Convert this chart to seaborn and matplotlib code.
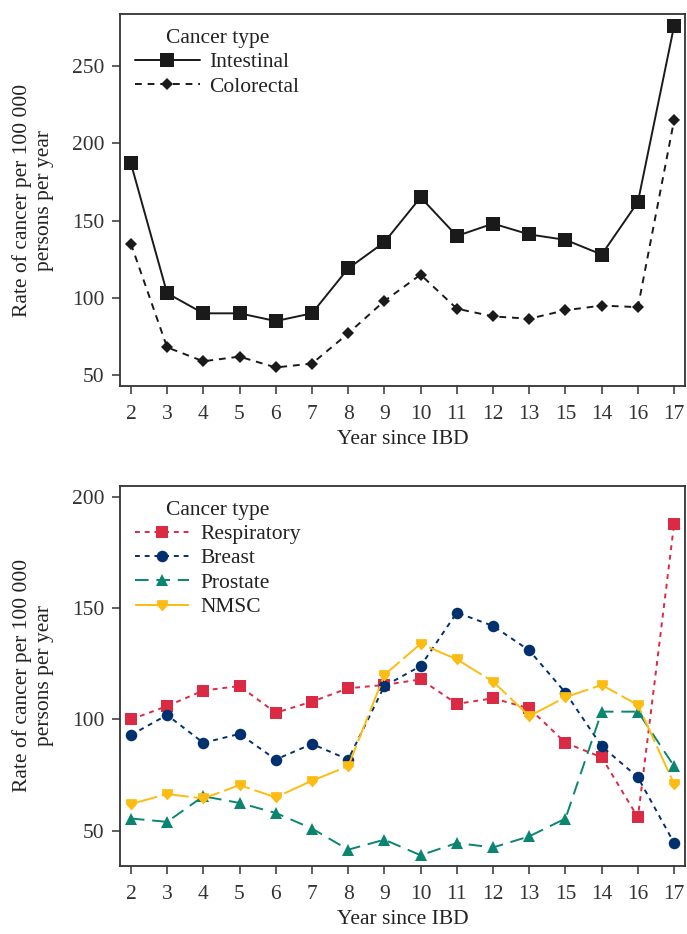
import matplotlib
matplotlib.use("Agg")
import matplotlib.pyplot as plt
import seaborn as sns
import pandas as pd

# data
years = ["2", "3", "4", "5", "6", "7", "8", "9", "10", "11", "12", "13", "15", "14", "16", "17"]

intestinal = [187, 103, 90, 90, 85, 90, 119, 136, 165, 140, 148, 141, 137.5, 128, 162, 276]
colorectal = [135, 68, 59, 62, 55, 57.5, 77, 98, 115, 93, 88, 86.5, 92, 95, 94, 215]

respiratory = [100, 106, 113, 115, 103, 108, 114, 115.5, 118, 107, 109.5, 105, 89.5, 83, 56, 188]
breast = [93, 102, 89.5, 93.5, 82, 89, 82, 115, 124, 148, 142, 131, 112, 88, 74, 44.5]
prostate = [55.5, 54, 65.5, 62.5, 58, 51, 41.5, 46, 39, 44.5, 42.5, 47.5, 55.5, 103.5, 103.5, 79]
nmsc = [62, 66.5, 64.5, 70.5, 65, 72.5, 79, 120, 134, 127, 117, 101.5, 110, 115.5, 106.5, 71]

sns.set_theme(style="ticks")
plt.rcParams["font.family"] = ["Liberation Serif", "DejaVu Serif"]
plt.rcParams["font.size"] = 15.5
plt.rcParams["text.color"] = "#222222"
plt.rcParams["axes.labelcolor"] = "#222222"
plt.rcParams["xtick.color"] = "#333333"
plt.rcParams["ytick.color"] = "#333333"

FS = 15.5

fig = plt.figure(figsize=(6.87, 9.34), dpi=100)
ax1 = fig.add_axes([0.1747, 0.5867, 0.8224, 0.3983])
ax2 = fig.add_axes([0.1747, 0.0731, 0.8224, 0.4069])

shield = [(-1, 1), (1, 1), (1, 0), (0, -1.1), (-1, 0), (-1, 1)]

top = [
    ("Intestinal", intestinal, dict(color="#1a1a1a", marker="s", markersize=9.5, linestyle="-")),
    ("Colorectal", colorectal, dict(color="#1a1a1a", marker="D", markersize=6.5, dashes=(3.5, 3))),
]
bottom = [
    ("Respiratory", respiratory, dict(color="#DA2A44", marker="s", markersize=8.3, dashes=(2.5, 2.5))),
    ("Breast", breast, dict(color="#00306E", marker="o", markersize=8.3, dashes=(2.5, 2.5))),
    ("Prostate", prostate, dict(color="#0A8570", marker="^", markersize=8, dashes=(7, 4))),
    ("NMSC", nmsc, dict(color="#FDBC12", marker=shield, markersize=8.5, dashes=(14, 2.5))),
]

for ax, series in [(ax1, top), (ax2, bottom)]:
    for name, vals, st in series:
        df = pd.DataFrame({"year": years, "rate": vals})
        sns.lineplot(data=df, x="year", y="rate", ax=ax, sort=False, label=name,
                     linewidth=1.4, markeredgewidth=0, **st)

ax1.set_ylim(43, 283.5)
ax1.set_yticks([50, 100, 150, 200, 250])
ax2.set_ylim(34.3, 205)
ax2.set_yticks([50, 100, 150, 200])

for ax, hl, pad in [(ax1, 3.0, 0.45), (ax2, 2.5, 0.55)]:
    ax.set_xlim(-0.3, 15.3)
    ax.set_xlabel("Year since IBD", fontsize=FS, labelpad=4)
    ax.set_ylabel("Rate of cancer per 100 000\npersons per year", fontsize=FS, labelpad=13)
    ax.tick_params(axis="both", labelsize=FS, length=6, width=1.1, direction="out", pad=5)
    ax.tick_params(axis="x", pad=8)
    for sp in ax.spines.values():
        sp.set_visible(True)
        sp.set_color("#333333")
        sp.set_linewidth(1.3)
    ax.legend(title="Cancer type", loc="upper left", frameon=False, fontsize=FS,
              title_fontsize=FS, handlelength=hl, handletextpad=pad,
              labelspacing=0.2, borderaxespad=0.25, borderpad=0.45)

fig.savefig("out.png", dpi=100)
